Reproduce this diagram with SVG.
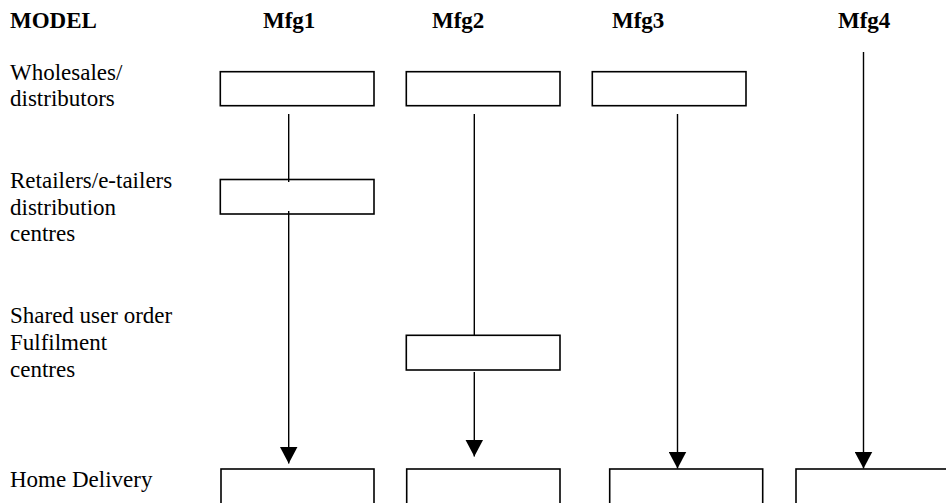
<svg xmlns="http://www.w3.org/2000/svg" width="946" height="503" viewBox="0 0 946 503">
<style>
text{font-family:"Liberation Serif","DejaVu Serif","Times New Roman",serif;font-size:23px;fill:#000}
.h{font-weight:bold}
.box{fill:#fff;stroke:#000;stroke-width:1.6}
.ln{stroke:#000;stroke-width:1.4;fill:none}
</style>
<defs>
<marker id="ah" markerUnits="userSpaceOnUse" markerWidth="17" markerHeight="18" refX="17" refY="9" orient="auto" viewBox="0 0 17 18">
<path d="M0,0 L17,9 L0,18 Z" fill="#000"/>
</marker>
</defs>
<rect width="946" height="503" fill="#fff"/>
<g id="headers">
<text class="h" x="10" y="28">MODEL</text>
<text class="h" x="263" y="28">Mfg1</text>
<text class="h" x="432" y="28">Mfg2</text>
<text class="h" x="612" y="28">Mfg3</text>
<text class="h" x="838" y="28">Mfg4</text>
</g>
<g id="row-labels">
<text x="10" y="80">Wholesales/</text>
<text x="10" y="106">distributors</text>
<text x="10" y="188">Retailers/e-tailers</text>
<text x="10" y="215">distribution</text>
<text x="10" y="241">centres</text>
<text x="10" y="323">Shared user order</text>
<text x="10" y="350">Fulfilment</text>
<text x="10" y="377">centres</text>
<text x="10" y="487">Home Delivery</text>
</g>
<g id="connectors">
<line class="ln" x1="288.7" y1="114" x2="288.7" y2="182"/>
<line class="ln" x1="288.7" y1="211" x2="288.7" y2="463.5" marker-end="url(#ah)"/>
<line class="ln" x1="474.3" y1="114" x2="474.3" y2="336"/>
<line class="ln" x1="474.3" y1="372" x2="474.3" y2="456.5" marker-end="url(#ah)"/>
<line class="ln" x1="677.5" y1="114" x2="677.5" y2="468.5" marker-end="url(#ah)"/>
<line class="ln" x1="863.5" y1="52" x2="863.5" y2="468.5" marker-end="url(#ah)"/>
</g>
<g id="mfg1-wholesale"><rect class="box" x="220.3" y="71.7" width="153.7" height="34"/></g>
<g id="mfg2-wholesale"><rect class="box" x="406.3" y="71.7" width="153.7" height="34"/></g>
<g id="mfg3-wholesale"><rect class="box" x="592.3" y="71.7" width="153.7" height="34"/></g>
<g id="mfg1-retail"><rect class="box" x="220.3" y="179.5" width="153.7" height="34.5" fill-opacity="0"/></g>
<g id="mfg2-shared"><rect class="box" x="406.3" y="335.3" width="153.7" height="34.7"/></g>
<g id="mfg1-home"><rect class="box" x="221" y="469" width="153" height="50"/></g>
<g id="mfg2-home"><rect class="box" x="406.7" y="469" width="153.3" height="50"/></g>
<g id="mfg3-home"><rect class="box" x="609.7" y="469" width="153" height="50"/></g>
<g id="mfg4-home"><rect class="box" x="796" y="469" width="170" height="50"/></g>
</svg>
